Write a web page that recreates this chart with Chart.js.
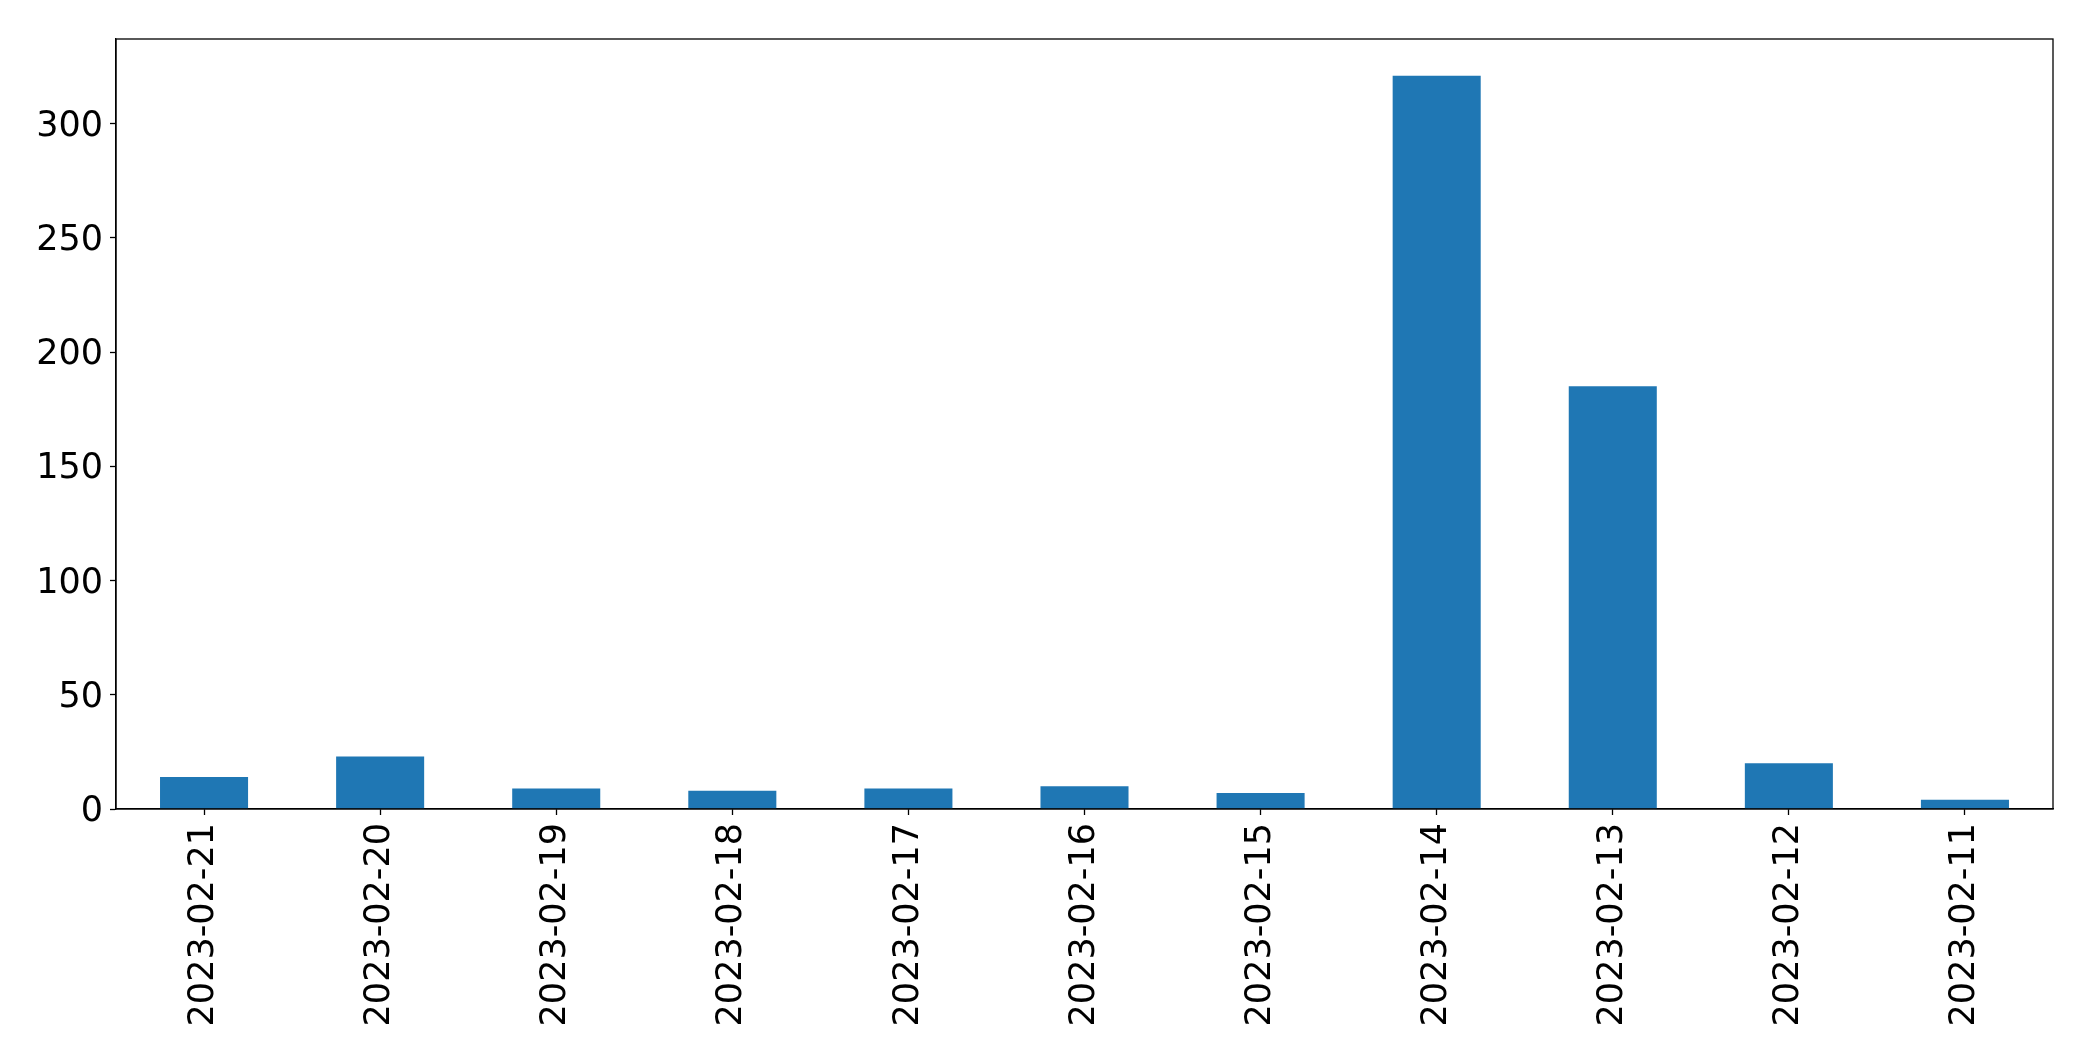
<!DOCTYPE html>
<html>
<head>
<meta charset="utf-8">
<script src="https://cdn.jsdelivr.net/npm/chart.js@4/dist/chart.umd.min.js"></script>
<style>
  html, body { margin: 0; padding: 0; background: #fff; }
  canvas { display: block; }
</style>
</head>
<body>
<canvas id="chart" width="2093" height="1061"></canvas>
<script>
const dates = ["2023-02-21", "2023-02-20", "2023-02-19", "2023-02-18", "2023-02-17", "2023-02-16",
               "2023-02-15", "2023-02-14", "2023-02-13", "2023-02-12", "2023-02-11"]
const counts = [14, 23, 9, 8, 9, 10, 7, 321, 185, 20, 4]
const yTicks = [0, 50, 100, 150, 200, 250, 300]

Chart.defaults.font.family = "'DejaVu Sans', sans-serif"
Chart.defaults.font.size = 35
Chart.defaults.color = "#000"

// matplotlib style box around the plot area
const frame = {
    id: "frame",
    afterDraw(chart) {
        const { ctx, chartArea: a } = chart
        ctx.save()
        ctx.strokeStyle = "#000"
        ctx.lineWidth = 1.3
        ctx.strokeRect(a.left, a.top, a.right - a.left, a.bottom - a.top)
        ctx.restore()
    }
}

new Chart(document.getElementById("chart"), {
    type: "bar",
    data: {
        labels: dates,
        datasets: [{
            data: counts,
            backgroundColor: "#1f77b4",
            barPercentage: 0.5,
            categoryPercentage: 1
        }]
    },
    plugins: [frame],
    options: {
        responsive: false,
        animation: false,
        layout: { padding: { top: 39, right: 40, left: 0, bottom: 0 } },
        plugins: { legend: { display: false }, tooltip: { enabled: false } },
        scales: {
            x: {
                grid: { offset: false, drawOnChartArea: false, tickLength: 6, tickColor: "#000", tickWidth: 1.3 },
                border: { color: "#000", width: 1.3 },
                ticks: { minRotation: 90, maxRotation: 90, padding: 8 },
                afterFit(scale) { scale.height = 252 }
            },
            y: {
                min: 0,
                max: Math.max(...counts) * 1.05,
                grid: { drawOnChartArea: false, tickLength: 6, tickColor: "#000", tickWidth: 1.3 },
                border: { color: "#000", width: 1.3 },
                ticks: { stepSize: 50, padding: 7, labelOffset: 3 },
                afterBuildTicks(scale) {
                    scale.ticks = yTicks.map(v => ({ value: v }))
                },
                afterFit(scale) { scale.width = 116 }
            }
        }
    }
})
</script>
</body>
</html>
